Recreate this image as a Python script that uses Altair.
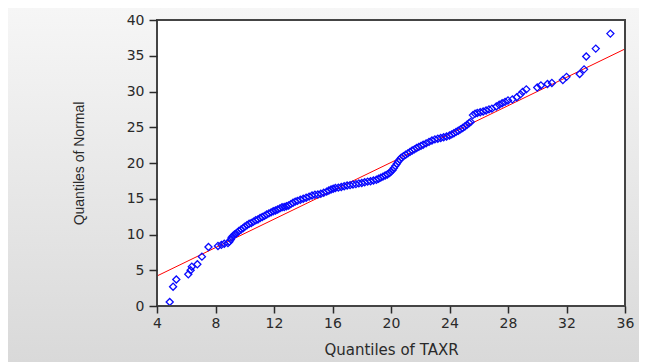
import altair as alt
import pandas as pd

# ---- data ----
low_x = [4.87, 5.10, 5.32, 6.14, 6.30, 6.38, 6.76, 7.07, 7.52, 8.17, 8.40, 8.60]
low_y = [0.56, 2.70, 3.70, 4.43, 5.00, 5.50, 5.83, 6.90, 8.25, 8.40, 8.55, 8.70]

mid_x = [8.85, 8.95, 9.05, 9.10, 9.20, 9.30, 9.40, 9.50, 9.60, 9.75,
         9.90, 10.00, 10.15, 10.30, 10.45, 10.60, 10.75, 10.90, 11.05, 11.20,
         11.35, 11.50, 11.65, 11.80, 11.95, 12.10, 12.25, 12.40, 12.55, 12.70,
         12.85, 13.00, 13.15, 13.30, 13.45, 13.60, 13.80, 14.00, 14.20, 14.40,
         14.60, 14.80, 15.00, 15.20, 15.40, 15.60, 15.75, 15.90, 16.05, 16.20,
         16.40, 16.60, 16.80, 17.00, 17.20, 17.40, 17.60, 17.80, 18.00, 18.20,
         18.40, 18.60, 18.80, 19.00, 19.15, 19.30, 19.45, 19.60, 19.75, 19.90,
         20.00, 20.10, 20.20, 20.30, 20.40, 20.50, 20.60, 20.70, 20.85, 21.00,
         21.15, 21.30, 21.45, 21.60, 21.75, 21.90, 22.05, 22.20, 22.40, 22.60,
         22.80, 23.00, 23.20, 23.40, 23.60, 23.80, 24.00, 24.15, 24.30, 24.45,
         24.60, 24.75, 24.90, 25.05, 25.20, 25.35, 25.45]
mid_y = [8.80, 9.00, 9.30, 9.60, 9.80, 10.00, 10.10, 10.30, 10.50, 10.70,
         10.90, 11.10, 11.30, 11.50, 11.60, 11.80, 12.00, 12.10, 12.30, 12.45,
         12.60, 12.80, 12.95, 13.10, 13.25, 13.35, 13.50, 13.65, 13.80, 13.85,
         13.95, 14.05, 14.25, 14.45, 14.60, 14.70, 14.85, 15.00, 15.15, 15.30,
         15.45, 15.55, 15.60, 15.70, 15.85, 16.00, 16.15, 16.30, 16.40, 16.50,
         16.55, 16.65, 16.75, 16.85, 16.90, 17.00, 17.05, 17.15, 17.20, 17.30,
         17.40, 17.45, 17.55, 17.65, 17.80, 17.95, 18.10, 18.25, 18.40, 18.60,
         18.80, 19.00, 19.30, 19.60, 19.90, 20.20, 20.50, 20.75, 20.95, 21.15,
         21.35, 21.55, 21.75, 21.90, 22.10, 22.25, 22.40, 22.55, 22.75, 22.95,
         23.15, 23.30, 23.40, 23.50, 23.60, 23.70, 23.85, 24.00, 24.15, 24.35,
         24.50, 24.70, 24.90, 25.10, 25.35, 25.60, 25.75]

high_x = [25.60, 25.75, 25.90, 26.10, 26.30, 26.50, 26.70, 26.90, 27.20, 27.40,
          27.60, 27.80, 28.00, 28.30, 28.60, 28.85, 29.00, 29.25, 30.00, 30.25,
          30.70, 31.00, 31.75, 32.00, 32.90, 33.20, 33.35, 34.00, 35.00]
high_y = [26.70, 26.90, 27.00, 27.10, 27.20, 27.35, 27.50, 27.60, 27.90, 28.15,
          28.35, 28.55, 28.75, 28.90, 29.20, 29.60, 29.95, 30.30, 30.55, 30.85,
          31.05, 31.20, 31.60, 32.05, 32.45, 33.10, 34.90, 36.00, 38.10]

line_x = [4, 36]
line_y = [4.2, 35.95]

x_ticks = [4, 8, 12, 16, 20, 24, 28, 32, 36]
y_ticks = [0, 5, 10, 15, 20, 25, 30, 35, 40]

# ---- layout ----
W, H = 468, 286
PL, PT, PR, PB = 149, 12, 14, 56

pts = pd.DataFrame({"taxr": low_x + mid_x + high_x,
                    "normal": low_y + mid_y + high_y})
ref = pd.DataFrame({"taxr": line_x, "normal": line_y})
one = pd.DataFrame({"k": [0]})

xscale = alt.Scale(domain=[4, 36], nice=False, zero=False)
yscale = alt.Scale(domain=[0, 40], nice=False, zero=False)

common_axis = dict(domain=False, grid=False, ticks=True, tickColor="#2a2a2a",
                   tickWidth=1.5, labelColor="#2a2a2a", labelFont="DejaVu Sans",
                   labelFontSize=14, labelFlush=False, labelOverlap=False,
                   titleColor="#2a2a2a", titleFontWeight="normal", zindex=1)

xaxis = alt.Axis(title="Quantiles of TAXR", values=x_ticks, format="d",
                 tickSize=7, labelPadding=3, titleFont="DejaVu Sans",
                 titleFontSize=15, titlePadding=12, **common_axis)
yaxis = alt.Axis(title="Quantiles of Normal", values=y_ticks, format="d",
                 tickSize=8, labelPadding=5, titleFont="Liberation Sans",
                 titleFontSize=14, titlePadding=40, **common_axis)

grad = alt.LinearGradient(
    gradient="linear",
    stops=[alt.GradientStop(color="#f6f6f6", offset=0),
           alt.GradientStop(color="#d9d9d9", offset=1)],
    x1=0, x2=0, y1=0, y2=1)

bg = alt.Chart(one).mark_rect(color=grad).encode(
    x=alt.value(-PL), x2=alt.value(W + PR), y=alt.value(-PT), y2=alt.value(H + PB))

plot_bg = alt.Chart(one).mark_rect(color="white").encode(
    x=alt.value(0), x2=alt.value(W), y=alt.value(0), y2=alt.value(H))

line = alt.Chart(ref).mark_line(color="#ff0000", strokeWidth=1).encode(
    x=alt.X("taxr:Q", scale=xscale, axis=xaxis),
    y=alt.Y("normal:Q", scale=yscale, axis=yaxis))

points = alt.Chart(pts).mark_point(shape="diamond", filled=False, color="#0a0aff",
                                   size=50, strokeWidth=1.3, opacity=1).encode(
    x=alt.X("taxr:Q", scale=xscale, axis=xaxis),
    y=alt.Y("normal:Q", scale=yscale, axis=yaxis))

frame = alt.Chart(one).mark_rect(filled=False, color="#444444", strokeWidth=2).encode(
    x=alt.value(0), x2=alt.value(W), y=alt.value(0), y2=alt.value(H))

chart = alt.layer(bg, plot_bg, line, points, frame).properties(
    width=W, height=H,
    autosize=alt.AutoSizeParams(type="none"),
    padding={"left": PL, "top": PT, "right": PR, "bottom": PB},
    background="#e6e6e6",
).configure_view(strokeWidth=0)

chart.save("out.html", embed_options={"renderer": "svg", "actions": False})
